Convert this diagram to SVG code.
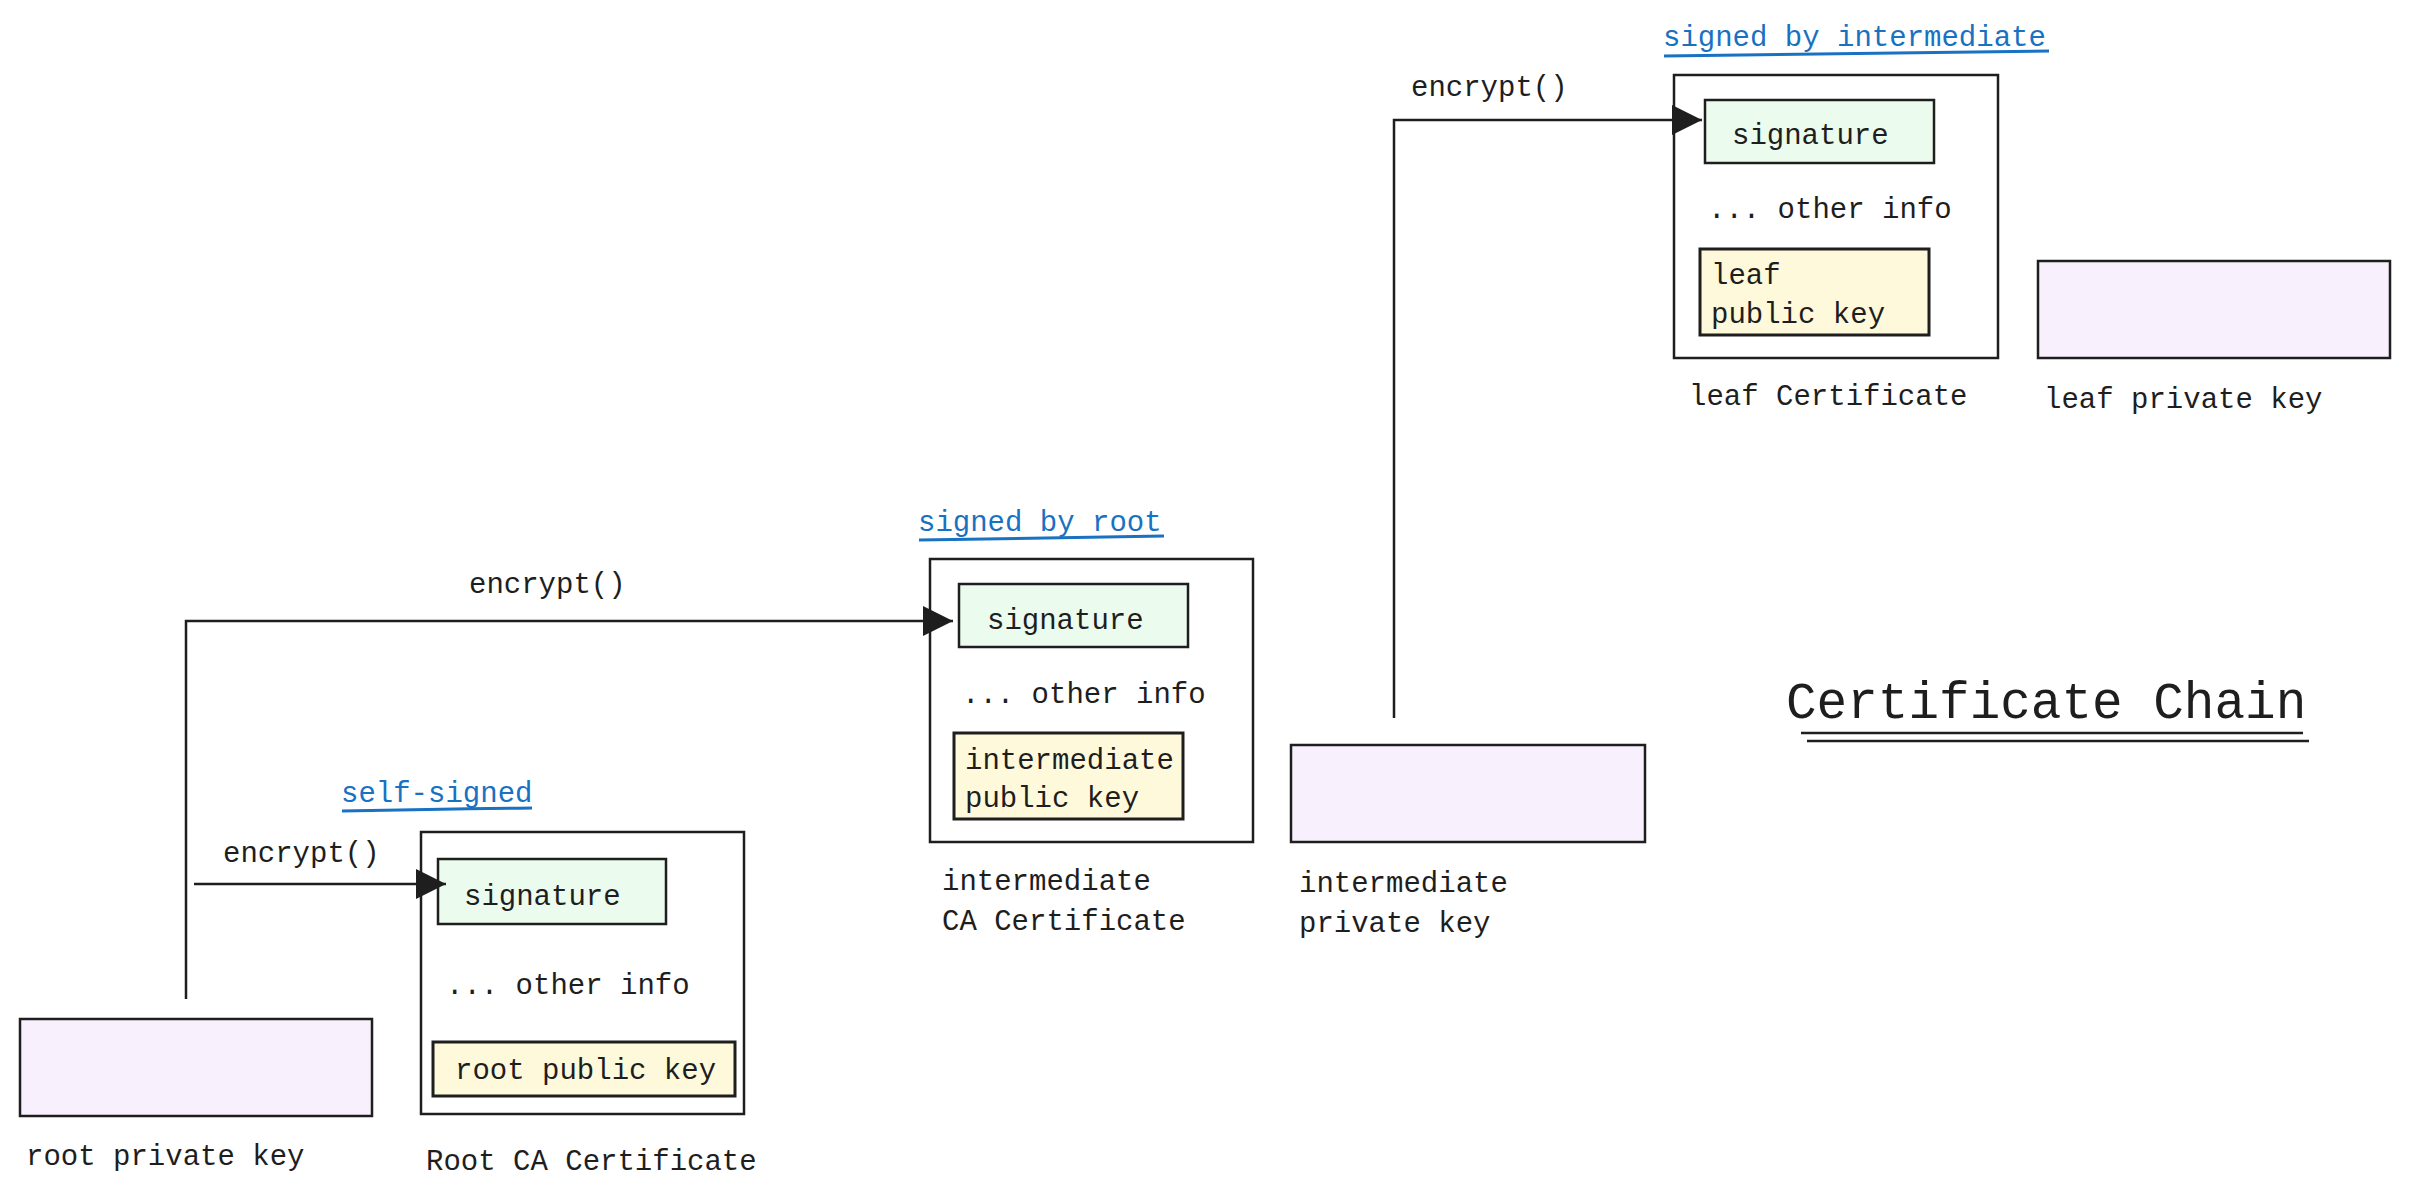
<svg xmlns="http://www.w3.org/2000/svg" width="2410" height="1202" viewBox="0 0 2410 1202">
<defs>
<style>
.box{stroke:#1e1e1e;stroke-width:2.5;}
.cert{fill:#ffffff;}
.priv{fill:#f8f0fc;}
.sig{fill:#ebfbee;}
.pub{fill:#fff9db;stroke-width:3;}
.t{font-family:"Liberation Mono","DejaVu Sans Mono",monospace;font-size:29px;fill:#1e1e1e;}
.lnk{font-family:"Liberation Mono","DejaVu Sans Mono",monospace;font-size:29px;fill:#1971c2;}
.ul{stroke:#1971c2;stroke-width:3;fill:none;}
.title{font-family:"Liberation Mono","DejaVu Sans Mono",monospace;font-size:51px;fill:#1e1e1e;}
.conn{stroke:#1e1e1e;stroke-width:2.5;fill:none;}
</style>
<marker id="arr" viewBox="0 0 10 10" refX="10" refY="5" markerUnits="userSpaceOnUse" markerWidth="30" markerHeight="30" orient="auto">
<path d="M0,0 L10,5 L0,10 z" fill="#1e1e1e"/>
</marker>
</defs>
<rect width="2410" height="1202" fill="#ffffff"/>

<g id="root-private-key">
<rect class="box priv" x="20" y="1019" width="352" height="97"/>
<text class="t" x="26" y="1165">root private key</text>
</g>

<g id="root-ca-certificate">
<text class="lnk" x="341" y="802">self-signed</text>
<path class="ul" d="M342,811 Q440,809 532,808"/>
<rect class="box cert" x="421" y="832" width="323" height="282"/>
<rect class="box sig" x="438" y="859" width="228" height="65"/>
<text class="t" x="464" y="905">signature</text>
<text class="t" x="446" y="994">... other info</text>
<rect class="box pub" x="433" y="1042" width="302" height="54"/>
<text class="t" x="455" y="1079">root public key</text>
<text class="t" x="426" y="1170">Root CA Certificate</text>
</g>

<g id="intermediate-ca-certificate">
<text class="lnk" x="918" y="531">signed by root</text>
<path class="ul" d="M919,540 Q1020,538 1164,536"/>
<rect class="box cert" x="930" y="559" width="323" height="283"/>
<rect class="box sig" x="959" y="584" width="229" height="63"/>
<text class="t" x="987" y="629">signature</text>
<text class="t" x="962" y="703">... other info</text>
<rect class="box pub" x="954" y="733" width="229" height="86"/>
<text class="t" x="965" y="769">intermediate</text>
<text class="t" x="965" y="807">public key</text>
<text class="t" x="942" y="890">intermediate</text>
<text class="t" x="942" y="930">CA Certificate</text>
</g>

<g id="intermediate-private-key">
<rect class="box priv" x="1291" y="745" width="354" height="97"/>
<text class="t" x="1299" y="892">intermediate</text>
<text class="t" x="1299" y="932">private key</text>
</g>

<g id="leaf-certificate">
<text class="lnk" x="1663" y="46">signed by intermediate</text>
<path class="ul" d="M1664,56 Q1850,53 2049,51"/>
<rect class="box cert" x="1674" y="75" width="324" height="283"/>
<rect class="box sig" x="1705" y="100" width="229" height="63"/>
<text class="t" x="1732" y="144">signature</text>
<text class="t" x="1708" y="218">... other info</text>
<rect class="box pub" x="1700" y="249" width="229" height="86"/>
<text class="t" x="1711" y="284">leaf</text>
<text class="t" x="1711" y="323">public key</text>
<text class="t" x="1689" y="405">leaf Certificate</text>
</g>

<g id="leaf-private-key">
<rect class="box priv" x="2038" y="261" width="352" height="97"/>
<text class="t" x="2044" y="408">leaf private key</text>
</g>

<g id="title">
<text class="title" x="1786" y="718">Certificate Chain</text>
<line x1="1801" y1="733" x2="2303" y2="733" stroke="#1e1e1e" stroke-width="2.5"/>
<line x1="1807" y1="741" x2="2309" y2="741" stroke="#1e1e1e" stroke-width="2.5"/>
</g>

<g id="connectors">
<path class="conn" d="M186,999 V621 H953" marker-end="url(#arr)"/>
<path class="conn" d="M194,884 H446" marker-end="url(#arr)"/>
<path class="conn" d="M1394,718 V120 H1702" marker-end="url(#arr)"/>
<text class="t" x="469" y="593">encrypt()</text>
<text class="t" x="223" y="862">encrypt()</text>
<text class="t" x="1411" y="96">encrypt()</text>
</g>
</svg>
